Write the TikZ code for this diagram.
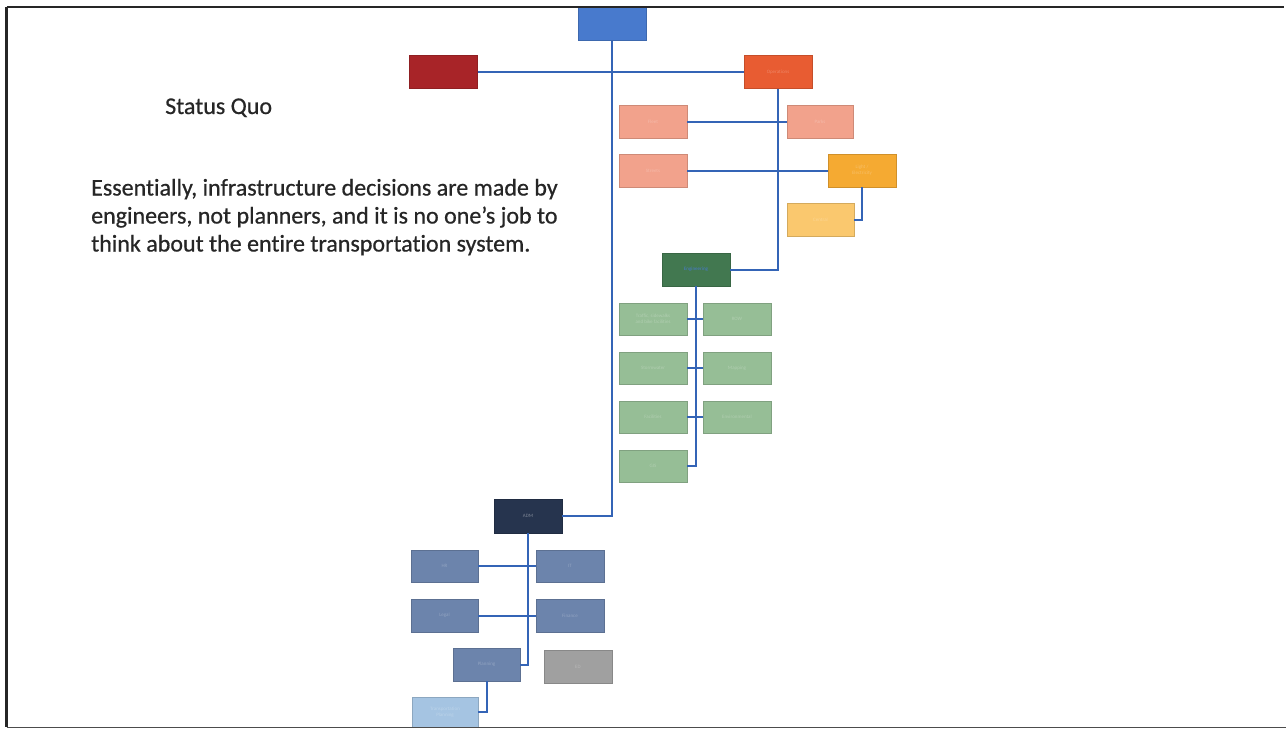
\documentclass[tikz,border=0pt]{standalone}
\usepackage{fontspec}
\setmainfont{Carlito}[RawFeature={-liga;-dlig}]
\newfontfamily\prosefont{Carlito}[RawFeature={-liga;-dlig}, FakeBold=0.6]
\definecolor{cTop}{RGB}{72,122,205}
\definecolor{cRed}{RGB}{168,36,40}
\definecolor{cOrange}{RGB}{232,92,50}
\definecolor{cSalmon}{RGB}{242,162,140}
\definecolor{cAmber}{RGB}{245,170,50}
\definecolor{cYellow}{RGB}{250,200,110}
\definecolor{cGreen}{RGB}{66,120,80}
\definecolor{cLGreen}{RGB}{150,190,150}
\definecolor{cNavy}{RGB}{38,52,78}
\definecolor{cSlate}{RGB}{108,132,172}
\definecolor{cGray}{RGB}{160,160,160}
\definecolor{cPale}{RGB}{165,196,226}
\definecolor{cLine}{RGB}{52,100,182}
\definecolor{cText}{RGB}{38,38,38}
\tikzset{
  orgbox/.style={draw=#1!85!black, fill=#1, line width=0.6pt, minimum width=68pt, minimum height=33pt,
    inner sep=1pt, font=\fontsize{5}{6}\selectfont, text=#1!75!white, align=center},
  link/.style={draw=cLine, line width=2pt},
  prose/.style={text=cText, font=\prosefont\fontsize{24}{28}\selectfont, inner sep=0pt, anchor=base west},
}
\begin{document}
\begin{tikzpicture}[x=1pt,y=-1pt]
\useasboundingbox (0,0) rectangle (1286,729);
\fill[white] (0,0) rectangle (1286,729);
% boxes
\node[orgbox=cTop] (top) at (612,24) {};
\node[orgbox=cRed] (red) at (443.5,72) {};
\node[orgbox=cOrange] (ops) at (778,72) {Operations};
\node[orgbox=cSalmon] (fleet) at (653,121.5) {Fleet};
\node[orgbox=cSalmon, minimum width=66pt] (parks) at (820,121.5) {Parks};
\node[orgbox=cSalmon] (streets) at (653,170.5) {Streets};
\node[orgbox=cAmber] (light) at (862,170.5) {Light /\\Electricity};
\node[orgbox=cYellow, minimum width=67pt] (central) at (820.5,219.5) {Central};
\node[orgbox=cGreen, text=cTop] (eng) at (696,269.5) {Engineering};
\node[orgbox=cLGreen, minimum height=32pt] (g11) at (653,319) {Traffic, sidewalks\\and bike facilities};
\node[orgbox=cLGreen, minimum height=32pt] (g12) at (737,319) {ROW};
\node[orgbox=cLGreen, minimum height=32pt] (g21) at (653,368) {Stormwater};
\node[orgbox=cLGreen, minimum height=32pt] (g22) at (737,368) {Mapping};
\node[orgbox=cLGreen, minimum height=32pt] (g31) at (653,417) {Facilities};
\node[orgbox=cLGreen, minimum height=32pt] (g32) at (737,417) {Environmental};
\node[orgbox=cLGreen, minimum height=32pt] (g41) at (653,466) {GIS};
\node[orgbox=cNavy, minimum height=34pt, text=cNavy!60!white] (adm) at (528,516) {ADM};
\node[orgbox=cSlate, minimum width=67pt, minimum height=32pt] (b11) at (444.5,566) {HR};
\node[orgbox=cSlate, minimum height=32pt] (b12) at (570,566) {IT};
\node[orgbox=cSlate, minimum width=67pt] (b21) at (444.5,615.5) {Legal};
\node[orgbox=cSlate] (b22) at (570,615.5) {Finance};
\node[orgbox=cSlate, minimum width=67pt] (plan) at (486.5,664.5) {Planning};
\node[orgbox=cGray] (ed) at (578,666.5) {ED};
\node[orgbox=cPale, minimum width=66pt, minimum height=30pt] (tp) at (445,712) {Transportation\\Planning};
% connectors
\draw[link] (top.south) |- (adm.east);
\draw[link] (red.east) -- (ops.west);
\draw[link] (ops.south) |- (eng.east);
\draw[link] (fleet.east) -- (parks.west);
\draw[link] (streets.east) -- (light.west);
\draw[link] (light.south) |- (central.east);
\draw[link] (eng.south) |- (g41.east);
\draw[link] (g11.east) -- (g12.west);
\draw[link] (g21.east) -- (g22.west);
\draw[link] (g31.east) -- (g32.west);
\draw[link] (adm.south) |- (plan.east);
\draw[link] (b11.east) -- (b12.west);
\draw[link] (b21.east) -- (b22.west);
\draw[link] (plan.south) |- (tp.east);
% text
\node[prose] (title) at (165,114) {Status Quo};
\node[prose] (body1) at (91,195.5) {Essentially, infrastructure decisions are made by};
\node[prose] (body2) at (91,223.5) {engineers, not planners, and it is no one’s job to};
\node[prose] (body3) at (91,251.5) {think about the entire transportation system.};
% frame
\draw[line width=2.2pt, draw=black!85] (6.5,7) -- (1284,7);
\draw[line width=2.2pt, draw=black!85] (6.5,7) -- (6.5,727);
\draw[line width=1.5pt, draw=black!70] (6.5,727.5) -- (1286,727.5);
\end{tikzpicture}
\end{document}
